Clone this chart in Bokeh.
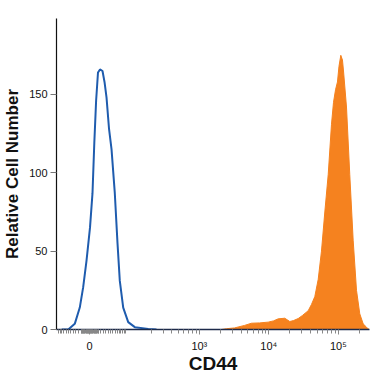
import numpy as np
from bokeh.plotting import figure
from bokeh.models import Range1d, FixedTicker
from bokeh.embed import file_html
from bokeh.resources import INLINE

# Display scale: biexponential-like (asinh) positions, 1 unit = 1 decade
C = 26.3
def pos(v):
    return float(np.arcsinh(np.asarray(v, dtype=float) / (2 * C)) / np.log(10))

# Isotype control histogram (display position, cell count)
iso_x = [-0.40, -0.306, -0.212, -0.140, -0.091, -0.043, 0.007, 0.043, 0.069, 0.095,
         0.122, 0.151, 0.187, 0.216, 0.245, 0.281, 0.317, 0.364, 0.403, 0.436,
         0.485, 0.557, 0.652, 0.845, 0.964]
iso_y = [0, 0, 3.6, 14, 27, 44, 65, 87, 119, 146,
         164, 166, 165, 158, 148, 128, 115, 87, 55, 31,
         14, 4.7, 1.5, 0.4, 0]

# CD44 stained histogram (display position, cell count)
cd44_x = [-0.259, 1.899, 1.971, 2.086, 2.230, 2.331, 2.446, 2.571, 2.647, 2.715,
          2.810, 2.882, 2.935, 3.003, 3.065, 3.147, 3.194, 3.242, 3.291, 3.338,
          3.386, 3.435, 3.482, 3.511, 3.540, 3.568, 3.590, 3.616, 3.640, 3.655,
          3.698, 3.745, 3.794, 3.842, 3.889, 3.938, 3.986, 4.010, 4.022]
cd44_y = [0, 0, 0.5, 1, 2.6, 4, 4.2, 4.7, 5.5, 6.8,
          7.2, 5.1, 5.7, 7, 9, 12, 16, 21, 32, 50,
          75, 99, 131, 145, 153, 158, 168, 175, 172, 165,
          142, 99, 57, 25, 10, 3.6, 1.5, 0.4, 0]

# Axis ticks (values in fluorescence units)
major_vals = [0, 1e3, 1e4, 1e5]
major_labels = ["0", "10³", "10⁴", "10⁵"]
minor_vals = (list(range(-65, 85, 5)) + list(range(-14, 17, 1)) +
              [200, 300, 400, 500, 600, 700, 800, 900] +
              [k * 1e3 for k in range(2, 10)] +
              [k * 1e4 for k in range(2, 10)] + [2e5])
y_ticks = [0, 50, 100, 150]

major_pos = [pos(v) for v in major_vals]
minor_pos = sorted(set(pos(v) for v in minor_vals))

p = figure(frame_width=313, frame_height=311, output_backend="svg",
           toolbar_location=None, min_border_left=55, min_border_right=5,
           min_border_top=18, min_border_bottom=40,
           x_range=Range1d(-0.475, 4.029), y_range=Range1d(0, 198.5))
p.outline_line_color = None
p.grid.grid_line_color = None
p.background_fill_color = "white"
p.border_fill_color = "white"

p.patch(cd44_x, cd44_y, fill_color="#f5821f", line_color="#f5821f", line_width=1)
p.line(iso_x, iso_y, line_color="#1f5cae", line_width=2)

xa = p.xaxis[0]
xa.ticker = FixedTicker(ticks=major_pos, minor_ticks=minor_pos)
xa.major_label_overrides = {mp: lab for mp, lab in zip(major_pos, major_labels)}
xa.axis_line_color = "#1c2a4a"
xa.axis_line_width = 1.5
xa.major_tick_line_color = "#888888"
xa.minor_tick_line_color = "#888888"
xa.major_tick_in = 0
xa.major_tick_out = 5
xa.minor_tick_in = 0
xa.minor_tick_out = 4
xa.major_label_text_font = "Liberation Sans"
xa.major_label_text_font_size = "11px"
xa.major_label_text_color = "#111111"
xa.major_label_standoff = 5
xa.axis_label = "CD44"
xa.axis_label_text_font = "Liberation Sans"
xa.axis_label_text_font_style = "bold"
xa.axis_label_text_font_size = "19px"
xa.axis_label_text_color = "#111111"
xa.axis_label_standoff = -2

ya = p.yaxis[0]
ya.ticker = FixedTicker(ticks=y_ticks, minor_ticks=[])
ya.axis_line_color = "#111111"
ya.axis_line_width = 1.2
ya.major_tick_line_color = "#777777"
ya.major_tick_in = 0
ya.major_tick_out = 6
ya.minor_tick_line_color = None
ya.major_label_text_font = "Liberation Sans"
ya.major_label_text_font_size = "11px"
ya.major_label_text_color = "#111111"
ya.major_label_standoff = 3
ya.axis_label = "Relative Cell Number"
ya.axis_label_text_font = "Liberation Sans"
ya.axis_label_text_font_style = "bold"
ya.axis_label_text_font_size = "17px"
ya.axis_label_text_color = "#111111"
ya.axis_label_standoff = 4

open("out.html", "w").write(file_html(p, INLINE))
